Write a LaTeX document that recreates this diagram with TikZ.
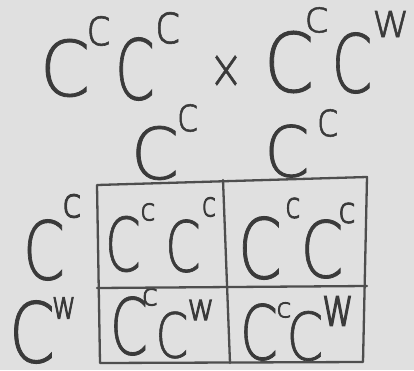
\documentclass[tikz,border=0pt]{standalone}
\usepackage{graphicx}
\usepackage{fontspec}
\newfontfamily\handlight[FakeBold=1.1]{DejaVu Sans ExtraLight}
\newfontfamily\handsmall[FakeBold=3]{DejaVu Sans ExtraLight}
\definecolor{paper}{HTML}{E0E0E0}
\definecolor{ink}{HTML}{3A3A3A}
\newcommand\mkglyph[3]{\resizebox{#1pt}{#2pt}{#3}}
\tikzset{
  lt/.style={inner sep=0pt, outer sep=0pt, text=ink, font=\handlight},
  sm/.style={inner sep=0pt, outer sep=0pt, text=ink, font=\handsmall},
  gridline/.style={draw=ink!90, line width=2.3pt, line cap=round, line join=round}
}
\begin{document}
\begin{tikzpicture}[x=1pt,y=-1pt]
\fill[paper] (0,0) rectangle (414,370);
\useasboundingbox (0,0) rectangle (414,370);
% title
\node[lt] (t1C) at (65,68) {\mkglyph{50}{57}{C}};
\node[lt] (t1c) at (99,31) {\mkglyph{25}{29}{c}};
\node[lt] (t2C) at (135,69) {\mkglyph{40}{62}{C}};
\node[lt] (t2c) at (168,28) {\mkglyph{26}{31}{c}};
\node[lt] (tx) at (226,72) {\mkglyph{34}{33}{×}};
\node[lt] (t3C) at (289,62) {\mkglyph{50}{61}{C}};
\node[lt] (t3c) at (317,20) {\mkglyph{25}{25}{c}};
\node[lt] (t4C) at (352,63) {\mkglyph{41}{60}{C}};
\node[lt] (t4w) at (391,24) {\mkglyph{38}{26}{w}};
% gametes top
\node[lt] (m1C) at (155,153) {\mkglyph{48}{53}{C}};
\node[lt] (m1c) at (188,118) {\mkglyph{22}{27}{c}};
\node[lt] (m2C) at (287,151) {\mkglyph{45}{52}{C}};
\node[lt] (m2c) at (328,123) {\mkglyph{22}{27}{c}};
% gametes left
\node[lt] (l1C) at (44,250) {\mkglyph{42}{60}{C}};
\node[sm] (l1c) at (72,206) {\mkglyph{19}{23}{c}};
\node[lt] (l2C) at (32,332) {\mkglyph{46}{62}{C}};
\node[sm] (l2w) at (64,308) {\mkglyph{24}{21}{w}};
% cells
\node[lt] (a1C) at (123,244) {\mkglyph{36}{55}{C}};
\node[sm] (a1c) at (148,212) {\mkglyph{15}{17}{c}};
\node[lt] (a2C) at (183,246) {\mkglyph{36}{52}{C}};
\node[sm] (a2c) at (209,207) {\mkglyph{14}{19}{c}};
\node[lt] (b1C) at (260,248) {\mkglyph{44}{62}{C}};
\node[sm] (b1c) at (293,208) {\mkglyph{15}{20}{c}};
\node[lt] (b2C) at (322,249) {\mkglyph{43}{58}{C}};
\node[sm] (b2c) at (347,213) {\mkglyph{17}{20}{c}};
\node[lt] (c1C) at (129,326) {\mkglyph{38}{58}{C}};
\node[sm] (c1c) at (150,297) {\mkglyph{16}{17}{c}};
\node[lt] (c2C) at (172,335) {\mkglyph{33}{46}{C}};
\node[sm] (c2w) at (201,310) {\mkglyph{27}{20}{w}};
\node[lt] (d1C) at (259,332) {\mkglyph{38}{56}{C}};
\node[sm] (d1c) at (284,310) {\mkglyph{15}{15}{c}};
\node[lt] (d2C) at (305,336) {\mkglyph{37}{49}{C}};
\node[sm] (d2w) at (338,311) {\mkglyph{32}{29}{w}};
% grid
\coordinate (TL) at (97,185);
\coordinate (TR) at (367,177);
\coordinate (BR) at (363,362);
\coordinate (BL) at (100,363);
\coordinate (VT) at (223,180);
\coordinate (VB) at (230,363);
\coordinate (HL) at (97,288);
\coordinate (HR) at (367,286);
\draw[gridline] (TL) -- (TR) -- (BR) -- (BL) -- cycle;
\draw[gridline] (VT) -- (VB);
\draw[gridline] (HL) -- (HR);
\end{tikzpicture}
\end{document}
